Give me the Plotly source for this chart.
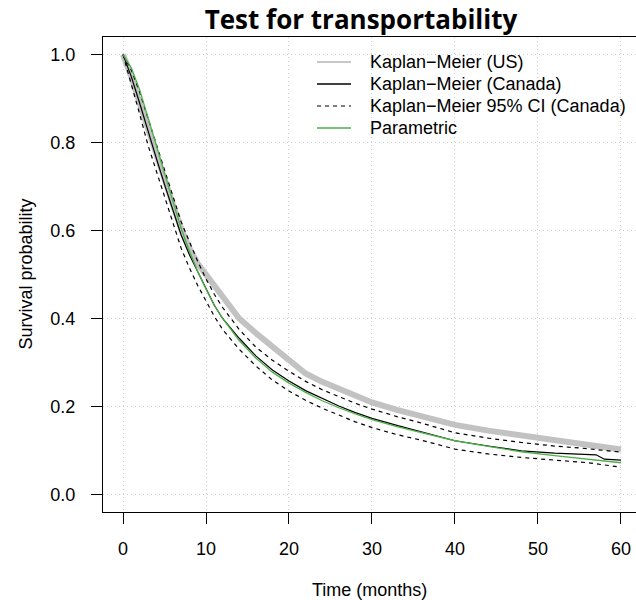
import plotly.graph_objects as go

# ---------------- data ----------------
time_us = [0, 1, 2, 3, 4, 5, 6, 7, 8, 9, 10, 11, 12, 14, 16, 18, 20, 22, 24, 26,
           28, 30, 33, 36, 40, 44, 48, 52, 56, 60]
surv_us = [1.0, 0.95, 0.89, 0.83, 0.77, 0.715, 0.66, 0.605, 0.56, 0.525, 0.50, 0.47,
           0.445, 0.40, 0.367, 0.335, 0.305, 0.275, 0.256, 0.24, 0.224, 0.209, 0.192,
           0.178, 0.158, 0.145, 0.134, 0.124, 0.113, 0.102]

time_ca = [0, 1, 2, 3, 4, 5, 6, 7, 8, 9, 10, 11, 12, 14, 16, 18, 20, 22, 24, 26,
           28, 30, 33, 36, 40, 44, 48, 52, 55, 57, 58, 60]
surv_ca = [1.0, 0.95, 0.89, 0.825, 0.765, 0.705, 0.645, 0.59, 0.545, 0.505, 0.468,
           0.43, 0.40, 0.355, 0.315, 0.283, 0.258, 0.236, 0.218, 0.201, 0.186, 0.173,
           0.157, 0.142, 0.122, 0.11, 0.099, 0.094, 0.092, 0.090, 0.080, 0.078]

time_ci = [0, 1, 2, 3, 4, 5, 6, 7, 8, 9, 10, 11, 12, 14, 16, 18, 20, 22, 24, 26,
           28, 30, 33, 36, 40, 44, 48, 52, 56, 60]
ci_upper = [1.0, 0.965, 0.915, 0.855, 0.795, 0.735, 0.675, 0.62, 0.575, 0.53, 0.49,
            0.455, 0.425, 0.375, 0.335, 0.305, 0.28, 0.257, 0.238, 0.222, 0.207,
            0.194, 0.177, 0.162, 0.14, 0.128, 0.118, 0.11, 0.104, 0.096]
ci_lower = [1.0, 0.935, 0.865, 0.795, 0.735, 0.675, 0.615, 0.56, 0.515, 0.475, 0.44,
            0.405, 0.375, 0.33, 0.292, 0.26, 0.235, 0.214, 0.196, 0.18, 0.165, 0.152,
            0.136, 0.123, 0.103, 0.092, 0.084, 0.078, 0.072, 0.062]

time_par = [0, 1, 2, 3, 4, 5, 6, 7, 8, 9, 10, 11, 12, 14, 16, 18, 20, 22, 24, 26,
            28, 30, 33, 36, 40, 44, 48, 52, 56, 60]
surv_par = [1.0, 0.97, 0.92, 0.86, 0.795, 0.73, 0.665, 0.605, 0.553, 0.507, 0.467,
            0.43, 0.40, 0.35, 0.31, 0.278, 0.253, 0.232, 0.213, 0.197, 0.183, 0.17,
            0.154, 0.14, 0.122, 0.109, 0.097, 0.088, 0.080, 0.072]

legend_labels = ["Kaplan\u2212Meier (US)", "Kaplan\u2212Meier (Canada)",
                 "Kaplan\u2212Meier 95% CI (Canada)", "Parametric"]
x_ticks = [0, 10, 20, 30, 40, 50, 60]
y_ticks = [0.0, 0.2, 0.4, 0.6, 0.8, 1.0]

GRAY = "#c2c2c2"
GREEN = "#4daf4a"
FONT = "Liberation Sans"

W, H = 636, 600
ML, MR, MT, MB = 103, 0, 37, 88
PW, PH = W - ML - MR, H - MT - MB


def px(x):
    return (x - ML) / PW


def py(y):
    return (H - MB - y) / PH


fig = go.Figure()

fig.add_trace(go.Scatter(x=time_us, y=surv_us, mode="lines",
                         line=dict(color=GRAY, width=6), showlegend=False))
fig.add_trace(go.Scatter(x=time_ca, y=surv_ca, mode="lines",
                         line=dict(color="black", width=1.2), showlegend=False))
for ci in (ci_upper, ci_lower):
    fig.add_trace(go.Scatter(x=time_ci, y=ci, mode="lines",
                             line=dict(color="black", width=1.2, dash="4px,4px"),
                             showlegend=False))
fig.add_trace(go.Scatter(x=time_par, y=surv_par, mode="lines",
                         line=dict(color=GREEN, width=1.3), showlegend=False))

# manual legend (no box), matching the reference spacing
leg_styles = [dict(color="#b5b5b5", width=1.6), dict(color="black", width=1.3),
              dict(color="black", width=1.2, dash="4px,4px"), dict(color=GREEN, width=1.3)]
shapes = []
annotations = []
for i, (lab, st) in enumerate(zip(legend_labels, leg_styles)):
    yy = 62 + 22 * i
    shapes.append(dict(type="line", xref="paper", yref="paper",
                       x0=px(317), x1=px(351), y0=py(yy), y1=py(yy), line=st))
    annotations.append(dict(text=lab, xref="paper", yref="paper", x=px(368), y=py(yy),
                            xanchor="left", yanchor="middle", showarrow=False,
                            font=dict(family=FONT, size=18, color="black")))

annotations += [
    dict(text="Time (months)", xref="paper", yref="paper", x=0.5, y=0,
         yshift=-78, showarrow=False, yanchor="middle",
         font=dict(family=FONT, size=18, color="black")),
    dict(text="Survival probability", xref="paper", yref="paper", x=0, y=0.5,
         xshift=-78, showarrow=False, textangle=-90, xanchor="center",
         font=dict(family=FONT, size=18, color="black")),
]

axis_common = dict(
    showline=True, linecolor="black", linewidth=1,
    ticks="outside", ticklen=11, tickcolor="black", tickwidth=1,
    showgrid=True, gridcolor="#cfcfcf", griddash="1px,3px", gridwidth=1,
    zeroline=False, tickfont=dict(family=FONT, size=18, color="black"),
)

fig.update_layout(
    width=W, height=H,
    margin=dict(l=ML, r=MR, t=MT, b=MB),
    paper_bgcolor="white", plot_bgcolor="white",
    showlegend=False,
    title=dict(text="<b>Test for transportability</b>", x=361 / W, xanchor="center",
               y=1 - 19.5 / H, yanchor="middle",
               font=dict(family="Open Sans", size=26, color="black")),
    xaxis=dict(range=[-2.41, 61.81], tickvals=x_ticks, ticktext=[str(v) for v in x_ticks],
               mirror=True, ticklabelstandoff=9, **axis_common),
    yaxis=dict(range=[-0.04, 1.04], tickvals=y_ticks,
               ticktext=[f"{v:.1f}" for v in y_ticks], ticklabelstandoff=12,
               **axis_common),
    shapes=shapes,
    annotations=annotations,
)

fig.write_html("out.html", config={"displayModeBar": False},
               post_script="document.body.style.margin='0';document.body.style.overflow='hidden';")
